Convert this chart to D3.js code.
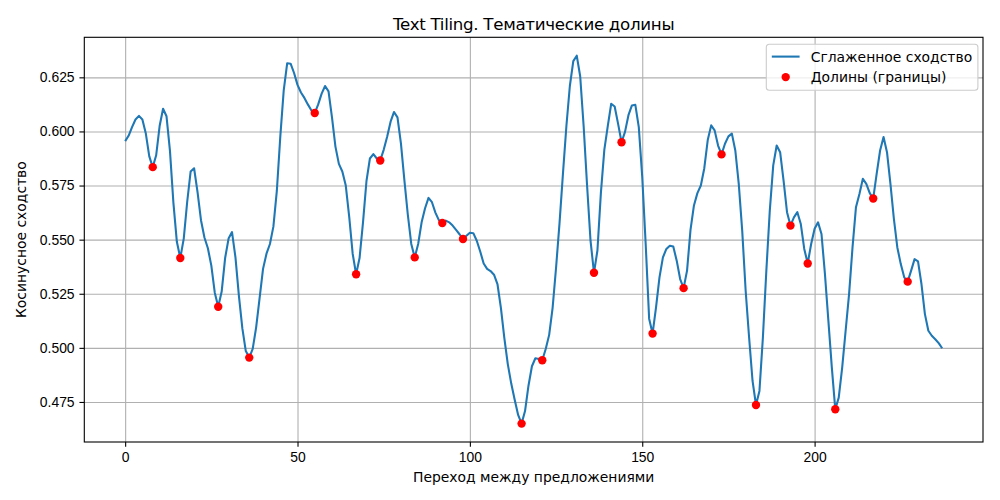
<!DOCTYPE html>
<html>
<head>
<meta charset="utf-8">
<script src="https://cdn.jsdelivr.net/npm/d3@7"></script>
<style>
  body { margin: 0; background: #fff; }
  svg { font-family: "DejaVu Sans", sans-serif; }
  .grid line { stroke: #b0b0b0; stroke-width: 1.1px; }
  .grid path { display: none; }
  .os path { display: none; }
  .os line { stroke: #000; stroke-width: 1.1px; }
  .os text { font-size: 13.9px; fill: #000; }
</style>
</head>
<body>
<div id="okvir"></div>
<script>
// сглаженное косинусное сходство между соседними блоками (индекс перехода 0..237)
const slicnost = [
  0.5955, 0.598, 0.602, 0.6055, 0.6072, 0.6055, 0.599, 0.5885, 0.5835, 0.589,
  0.6025, 0.6105, 0.607, 0.591, 0.567, 0.549, 0.5415, 0.5505, 0.5675, 0.5815,
  0.583, 0.572, 0.559, 0.551, 0.546, 0.538, 0.5255, 0.519, 0.526, 0.5415,
  0.5505, 0.5535, 0.5418, 0.524, 0.509, 0.4985, 0.4955, 0.4995, 0.5095, 0.523,
  0.5365, 0.5435, 0.548, 0.556, 0.5725, 0.5975, 0.619, 0.6315, 0.6313, 0.627,
  0.6215, 0.618, 0.6155, 0.6125, 0.6098, 0.6085, 0.6125, 0.6175, 0.621, 0.6185,
  0.6065, 0.593, 0.585, 0.5815, 0.575, 0.5605, 0.5435, 0.534, 0.5415, 0.558,
  0.577, 0.5875, 0.5895, 0.5875, 0.5866, 0.5915, 0.5975, 0.6045, 0.609, 0.6065,
  0.5945, 0.5775, 0.5615, 0.548, 0.5418, 0.548, 0.558, 0.5645, 0.5693, 0.5673,
  0.5625, 0.559, 0.5577, 0.5588, 0.558, 0.5565, 0.5545, 0.5525, 0.5503, 0.5518,
  0.5532, 0.553, 0.5495, 0.5445, 0.539, 0.5365, 0.5355, 0.5338, 0.5295, 0.5185,
  0.5045, 0.4925, 0.4835, 0.476, 0.469, 0.465, 0.4708, 0.4825, 0.4915, 0.4952,
  0.4948, 0.4943, 0.4995, 0.506, 0.5185, 0.537, 0.5575, 0.5805, 0.6025, 0.621,
  0.6325, 0.635, 0.6255, 0.6025, 0.575, 0.5495, 0.5347, 0.545, 0.5715, 0.5915,
  0.6025, 0.6128, 0.6115, 0.6035, 0.595, 0.5998, 0.6075, 0.612, 0.6123, 0.602,
  0.579, 0.548, 0.5135, 0.5066, 0.5187, 0.5326, 0.5418, 0.5457, 0.5472, 0.5468,
  0.5403, 0.5318, 0.5276, 0.5357, 0.5545, 0.5658, 0.5715, 0.575, 0.583, 0.596,
  0.6028, 0.6005, 0.5935, 0.5894, 0.5943, 0.5977, 0.599, 0.5912, 0.5758, 0.5542,
  0.5264, 0.5048, 0.4847, 0.4736, 0.4801, 0.5048, 0.5356, 0.5634, 0.5843, 0.5935,
  0.5904, 0.5773, 0.5627, 0.5565, 0.5603, 0.5627, 0.5572, 0.5457, 0.539, 0.548,
  0.555, 0.558, 0.5526, 0.5341, 0.5125, 0.4909, 0.4716, 0.477, 0.4909, 0.5079,
  0.5248, 0.5464, 0.565, 0.5711, 0.5781, 0.5758, 0.5715, 0.569, 0.5804, 0.5912,
  0.5974, 0.5904, 0.5758, 0.5596, 0.5464, 0.5387, 0.5326, 0.5306, 0.5357, 0.541,
  0.540, 0.5295, 0.5156, 0.5079, 0.5056, 0.504, 0.5022, 0.4998
];
// индексы долин (границ)
const doline = [8, 16, 27, 36, 55, 67, 74, 84, 92, 98, 115, 121, 136, 144, 153, 162, 173, 183, 193, 198, 206, 217, 227];
const xTikovi = [0, 50, 100, 150, 200];
const yTikovi = [0.475, 0.5, 0.525, 0.55, 0.575, 0.6, 0.625];

const naslov = "Text Tiling. Тематические долины";
const xNaziv = "Переход между предложениями";
const yNaziv = "Косинусное сходство";
const legendaNazivi = ["Сглаженное сходство", "Долины (границы)"];

const podatci = slicnost.map((v, i) => ({ i: i, v: v }));
const tockeDolina = doline.map(i => ({ i: i, v: slicnost[i] }));

const xAccessor = d => d.i;
const yAccessor = d => d.v;

const dimenzije = {
  width: 1000,
  height: 500,
  margin: { top: 37.3, right: 17, bottom: 58, left: 84.3 }
};
dimenzije.boundsWidth = dimenzije.width - dimenzije.margin.left - dimenzije.margin.right;
dimenzije.boundsHeight = dimenzije.height - dimenzije.margin.top - dimenzije.margin.bottom;

const okvir = d3.select("#okvir").append("svg")
  .attr("width", dimenzije.width)
  .attr("height", dimenzije.height);

const granice = okvir.append("g")
  .attr("transform", `translate(${dimenzije.margin.left},${dimenzije.margin.top})`);

// matplotlib margine 5%
const xExt = d3.extent(podatci, xAccessor);
const xPad = (xExt[1] - xExt[0]) * 0.05;
const yExt = d3.extent(podatci, yAccessor);
const yPad = (yExt[1] - yExt[0]) * 0.05;

const xMjerilo = d3.scaleLinear()
  .domain([xExt[0] - xPad, xExt[1] + xPad])
  .range([0, dimenzije.boundsWidth]);

const yMjerilo = d3.scaleLinear()
  .domain([yExt[0] - yPad, yExt[1] + yPad])
  .range([dimenzije.boundsHeight, 0]);

// mreza
granice.append("g").attr("class", "grid")
  .attr("transform", `translate(0,${dimenzije.boundsHeight})`)
  .call(d3.axisBottom(xMjerilo).tickValues(xTikovi).tickSize(-dimenzije.boundsHeight).tickFormat(""));
granice.append("g").attr("class", "grid")
  .call(d3.axisLeft(yMjerilo).tickValues(yTikovi).tickSize(-dimenzije.boundsWidth).tickFormat(""));

// linija
const generatorLinije = d3.line()
  .x(d => xMjerilo(xAccessor(d)))
  .y(d => yMjerilo(yAccessor(d)));

granice.append("path")
  .attr("d", generatorLinije(podatci))
  .attr("fill", "none")
  .attr("stroke", "#1f77b4")
  .attr("stroke-width", 2.08)
  .attr("stroke-linejoin", "round")
  .attr("stroke-linecap", "butt");

granice.selectAll(".dolina")
  .data(tockeDolina)
  .join("circle")
  .attr("class", "dolina")
  .attr("cx", d => xMjerilo(xAccessor(d)))
  .attr("cy", d => yMjerilo(yAccessor(d)))
  .attr("r", 4.2)
  .attr("fill", "#ff0000");

// osi
const xOs = granice.append("g").attr("class", "os")
  .attr("transform", `translate(0,${dimenzije.boundsHeight})`)
  .call(d3.axisBottom(xMjerilo).tickValues(xTikovi).tickSize(4.86).tickPadding(4.86).tickFormat(d3.format("d")));
xOs.selectAll("text").attr("dy", "0.75em");

const yOs = granice.append("g").attr("class", "os")
  .call(d3.axisLeft(yMjerilo).tickValues(yTikovi).tickSize(4.86).tickPadding(4.86).tickFormat(d3.format(".3f")));

// okvir osi
granice.append("rect")
  .attr("width", dimenzije.boundsWidth)
  .attr("height", dimenzije.boundsHeight)
  .attr("fill", "none")
  .attr("stroke", "#000")
  .attr("stroke-width", 1.1);

// naslovi
okvir.append("text")
  .attr("x", dimenzije.margin.left + dimenzije.boundsWidth / 2)
  .attr("y", 29.5)
  .attr("text-anchor", "middle")
  .style("font-size", "16.67px")
  .style("letter-spacing", "-0.3px")
  .text(naslov);

okvir.append("text")
  .attr("x", dimenzije.margin.left + dimenzije.boundsWidth / 2)
  .attr("y", 482)
  .attr("text-anchor", "middle")
  .style("font-size", "13.9px")
  .text(xNaziv);

okvir.append("text")
  .attr("transform", `translate(26,${dimenzije.margin.top + dimenzije.boundsHeight / 2}) rotate(-90)`)
  .attr("text-anchor", "middle")
  .style("font-size", "13.9px")
  .text(yNaziv);

// legenda
const legenda = granice.append("g")
  .attr("transform", `translate(${dimenzije.boundsWidth - 216.7},7)`);
legenda.append("rect")
  .attr("width", 211.6)
  .attr("height", 46)
  .attr("rx", 3)
  .attr("fill", "#fff")
  .attr("fill-opacity", 0.8)
  .attr("stroke", "#cccccc")
  .attr("stroke-width", 1.1);
legenda.append("line")
  .attr("x1", 5.5).attr("x2", 33.3)
  .attr("y1", 12.3).attr("y2", 12.3)
  .attr("stroke", "#1f77b4")
  .attr("stroke-width", 2.08);
legenda.append("circle")
  .attr("cx", 19.4).attr("cy", 32.8).attr("r", 4.2)
  .attr("fill", "#ff0000");
legenda.selectAll(".leg-tekst")
  .data(legendaNazivi)
  .join("text")
  .attr("class", "leg-tekst")
  .attr("x", 44.4)
  .attr("y", (d, i) => 17.3 + i * 20.5)
  .style("font-size", "13.9px")
  .text(d => d);
</script>
</body>
</html>
